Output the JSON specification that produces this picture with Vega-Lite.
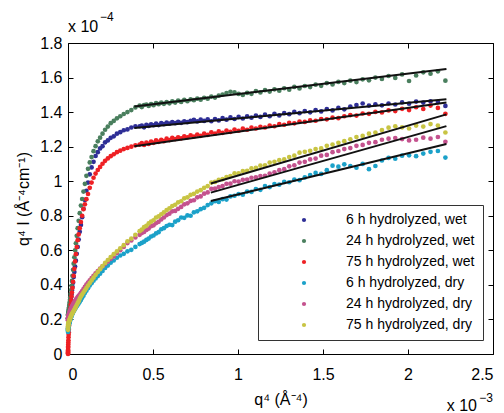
{
"$schema":"https://vega.github.io/schema/vega-lite/v6.json",
"width":425,"height":311,"autosize":"none",
"padding":{"left":68,"top":43,"right":11,"bottom":59},
"config":{"view":{"stroke":null},"font":"Liberation Sans",
"axis":{"grid":false,"domainColor":"#000","tickColor":"#000","labelColor":"#000","titleColor":"#000","labelFont":"Liberation Sans","titleFont":"Liberation Sans","labelFontSize":16,"titleFontSize":16,"titleFontWeight":"normal","tickSize":-5,"domainWidth":1,"tickWidth":1},
"text":{"font":"Liberation Sans","color":"#000"}},
"datasets":{
"w6":[{"x":0.0005,"y":0.204},{"x":0.0006,"y":0.206},{"x":0.0009,"y":0.207},{"x":0.0011,"y":0.21},{"x":0.0015,"y":0.211},{"x":0.0019,"y":0.215},{"x":0.0023,"y":0.218},{"x":0.0029,"y":0.222},{"x":0.0036,"y":0.229},{"x":0.0043,"y":0.234},{"x":0.0052,"y":0.241},{"x":0.0062,"y":0.247},{"x":0.0074,"y":0.255},{"x":0.0087,"y":0.262},{"x":0.0101,"y":0.271},{"x":0.0118,"y":0.285},{"x":0.0136,"y":0.299},{"x":0.0157,"y":0.314},{"x":0.018,"y":0.328},{"x":0.0205,"y":0.344},{"x":0.0233,"y":0.367},{"x":0.0263,"y":0.389},{"x":0.0297,"y":0.413},{"x":0.0333,"y":0.445},{"x":0.0373,"y":0.474},{"x":0.0416,"y":0.506},{"x":0.0463,"y":0.54},{"x":0.0514,"y":0.58},{"x":0.0568,"y":0.62},{"x":0.0627,"y":0.662},{"x":0.0691,"y":0.707},{"x":0.0759,"y":0.747},{"x":0.0832,"y":0.792},{"x":0.091,"y":0.84},{"x":0.0994,"y":0.892},{"x":0.1083,"y":0.945},{"x":0.1178,"y":0.992},{"x":0.128,"y":1.04},{"x":0.1388,"y":1.08},{"x":0.1502,"y":1.112},{"x":0.1623,"y":1.146},{"x":0.1752,"y":1.168},{"x":0.1888,"y":1.19},{"x":0.2031,"y":1.203},{"x":0.2183,"y":1.225},{"x":0.2343,"y":1.236},{"x":0.2512,"y":1.251},{"x":0.269,"y":1.26},{"x":0.2877,"y":1.275},{"x":0.3074,"y":1.284},{"x":0.328,"y":1.295},{"x":0.3497,"y":1.3},{"x":0.3724,"y":1.311},{"x":0.3963,"y":1.317},{"x":0.4212,"y":1.318},{"x":0.4341,"y":1.322},{"x":0.4474,"y":1.312},{"x":0.4609,"y":1.326},{"x":0.4747,"y":1.32},{"x":0.4888,"y":1.329},{"x":0.5032,"y":1.324},{"x":0.518,"y":1.333},{"x":0.533,"y":1.325},{"x":0.5484,"y":1.336},{"x":0.5641,"y":1.33},{"x":0.5802,"y":1.339},{"x":0.5966,"y":1.333},{"x":0.6133,"y":1.342},{"x":0.6304,"y":1.336},{"x":0.6479,"y":1.344},{"x":0.6657,"y":1.338},{"x":0.6839,"y":1.347},{"x":0.7024,"y":1.342},{"x":0.7213,"y":1.35},{"x":0.7406,"y":1.355},{"x":0.7603,"y":1.346},{"x":0.7804,"y":1.356},{"x":0.8009,"y":1.349},{"x":0.8217,"y":1.358},{"x":0.843,"y":1.347},{"x":0.8647,"y":1.36},{"x":0.8868,"y":1.352},{"x":0.9093,"y":1.365},{"x":0.9323,"y":1.356},{"x":0.9556,"y":1.369},{"x":0.9795,"y":1.36},{"x":1.0037,"y":1.372},{"x":1.0284,"y":1.363},{"x":1.0536,"y":1.375},{"x":1.0792,"y":1.368},{"x":1.1053,"y":1.38},{"x":1.1318,"y":1.372},{"x":1.1589,"y":1.385},{"x":1.1864,"y":1.376},{"x":1.2144,"y":1.39},{"x":1.2428,"y":1.381},{"x":1.2718,"y":1.394},{"x":1.3013,"y":1.388},{"x":1.3313,"y":1.401},{"x":1.3618,"y":1.394},{"x":1.3929,"y":1.406},{"x":1.4244,"y":1.399},{"x":1.4565,"y":1.412},{"x":1.4892,"y":1.404},{"x":1.5224,"y":1.418},{"x":1.5561,"y":1.41},{"x":1.5904,"y":1.424},{"x":1.6252,"y":1.416},{"x":1.6607,"y":1.432},{"x":1.6967,"y":1.441},{"x":1.7333,"y":1.45},{"x":1.7704,"y":1.438},{"x":1.8082,"y":1.445},{"x":1.8466,"y":1.439},{"x":1.8856,"y":1.45},{"x":1.9251,"y":1.444},{"x":1.9653,"y":1.456},{"x":2.0062,"y":1.449},{"x":2.0477,"y":1.461},{"x":2.0898,"y":1.455},{"x":2.1325,"y":1.462},{"x":2.1759,"y":1.458},{"x":2.22,"y":1.436}],
"w24":[{"x":0.0005,"y":0.224},{"x":0.0006,"y":0.228},{"x":0.0009,"y":0.227},{"x":0.0011,"y":0.231},{"x":0.0015,"y":0.232},{"x":0.0019,"y":0.237},{"x":0.0023,"y":0.238},{"x":0.0029,"y":0.245},{"x":0.0036,"y":0.249},{"x":0.0043,"y":0.256},{"x":0.0052,"y":0.262},{"x":0.0062,"y":0.27},{"x":0.0074,"y":0.279},{"x":0.0087,"y":0.29},{"x":0.0101,"y":0.301},{"x":0.0118,"y":0.314},{"x":0.0136,"y":0.329},{"x":0.0157,"y":0.347},{"x":0.018,"y":0.37},{"x":0.0205,"y":0.395},{"x":0.0233,"y":0.423},{"x":0.0263,"y":0.453},{"x":0.0297,"y":0.487},{"x":0.0333,"y":0.523},{"x":0.0373,"y":0.56},{"x":0.0416,"y":0.6},{"x":0.0463,"y":0.641},{"x":0.0514,"y":0.684},{"x":0.0568,"y":0.728},{"x":0.0627,"y":0.771},{"x":0.0691,"y":0.815},{"x":0.0759,"y":0.859},{"x":0.0832,"y":0.897},{"x":0.091,"y":0.94},{"x":0.0994,"y":0.985},{"x":0.1083,"y":1.031},{"x":0.1178,"y":1.072},{"x":0.128,"y":1.109},{"x":0.1388,"y":1.14},{"x":0.1502,"y":1.174},{"x":0.1623,"y":1.203},{"x":0.1752,"y":1.231},{"x":0.1888,"y":1.252},{"x":0.2031,"y":1.275},{"x":0.2183,"y":1.298},{"x":0.2343,"y":1.316},{"x":0.2512,"y":1.336},{"x":0.269,"y":1.349},{"x":0.2877,"y":1.364},{"x":0.3074,"y":1.376},{"x":0.328,"y":1.389},{"x":0.3497,"y":1.4},{"x":0.3724,"y":1.412},{"x":0.3963,"y":1.427},{"x":0.4212,"y":1.437},{"x":0.4341,"y":1.429},{"x":0.4474,"y":1.441},{"x":0.4609,"y":1.444},{"x":0.4747,"y":1.436},{"x":0.4888,"y":1.447},{"x":0.5032,"y":1.44},{"x":0.518,"y":1.452},{"x":0.533,"y":1.446},{"x":0.5484,"y":1.455},{"x":0.5641,"y":1.448},{"x":0.5802,"y":1.458},{"x":0.5966,"y":1.451},{"x":0.6133,"y":1.462},{"x":0.6304,"y":1.455},{"x":0.6479,"y":1.466},{"x":0.6657,"y":1.459},{"x":0.6839,"y":1.471},{"x":0.7024,"y":1.463},{"x":0.7213,"y":1.474},{"x":0.7406,"y":1.469},{"x":0.7603,"y":1.478},{"x":0.7804,"y":1.472},{"x":0.8009,"y":1.483},{"x":0.8217,"y":1.478},{"x":0.843,"y":1.49},{"x":0.8647,"y":1.484},{"x":0.8868,"y":1.495},{"x":0.9093,"y":1.502},{"x":0.9323,"y":1.51},{"x":0.9556,"y":1.518},{"x":0.9795,"y":1.514},{"x":1.0037,"y":1.505},{"x":1.0284,"y":1.499},{"x":1.0536,"y":1.511},{"x":1.0792,"y":1.506},{"x":1.1053,"y":1.522},{"x":1.1318,"y":1.514},{"x":1.1589,"y":1.527},{"x":1.1864,"y":1.519},{"x":1.2144,"y":1.532},{"x":1.2428,"y":1.524},{"x":1.2718,"y":1.538},{"x":1.3013,"y":1.53},{"x":1.3313,"y":1.546},{"x":1.3618,"y":1.537},{"x":1.3929,"y":1.551},{"x":1.4244,"y":1.545},{"x":1.4565,"y":1.559},{"x":1.4892,"y":1.552},{"x":1.5224,"y":1.568},{"x":1.5561,"y":1.56},{"x":1.5904,"y":1.575},{"x":1.6252,"y":1.568},{"x":1.6607,"y":1.582},{"x":1.6967,"y":1.574},{"x":1.7333,"y":1.59},{"x":1.7704,"y":1.584},{"x":1.8082,"y":1.6},{"x":1.8466,"y":1.592},{"x":1.8856,"y":1.609},{"x":1.9251,"y":1.598},{"x":1.9653,"y":1.618},{"x":2.0062,"y":1.58},{"x":2.0477,"y":1.612},{"x":2.0898,"y":1.63},{"x":2.1325,"y":1.622},{"x":2.1759,"y":1.636},{"x":2.22,"y":1.582}],
"w75":[{"x":0,"y":0},{"x":0.0001,"y":0.005},{"x":0.0002,"y":0.01},{"x":0.0003,"y":0.015},{"x":0.0005,"y":0.02},{"x":0.0006,"y":0.024},{"x":0.0009,"y":0.036},{"x":0.0011,"y":0.043},{"x":0.0015,"y":0.055},{"x":0.0019,"y":0.067},{"x":0.0023,"y":0.079},{"x":0.0029,"y":0.097},{"x":0.0036,"y":0.112},{"x":0.0043,"y":0.126},{"x":0.0052,"y":0.144},{"x":0.0062,"y":0.163},{"x":0.0074,"y":0.181},{"x":0.0087,"y":0.2},{"x":0.0101,"y":0.221},{"x":0.0118,"y":0.242},{"x":0.0136,"y":0.263},{"x":0.0157,"y":0.287},{"x":0.018,"y":0.31},{"x":0.0205,"y":0.334},{"x":0.0233,"y":0.356},{"x":0.0263,"y":0.382},{"x":0.0297,"y":0.418},{"x":0.0333,"y":0.453},{"x":0.0373,"y":0.493},{"x":0.0416,"y":0.536},{"x":0.0463,"y":0.578},{"x":0.0514,"y":0.619},{"x":0.0568,"y":0.659},{"x":0.0627,"y":0.692},{"x":0.0691,"y":0.728},{"x":0.0759,"y":0.764},{"x":0.0832,"y":0.8},{"x":0.091,"y":0.838},{"x":0.0994,"y":0.866},{"x":0.1083,"y":0.896},{"x":0.1178,"y":0.926},{"x":0.128,"y":0.962},{"x":0.1388,"y":0.992},{"x":0.1502,"y":1.02},{"x":0.1623,"y":1.044},{"x":0.1752,"y":1.065},{"x":0.1888,"y":1.083},{"x":0.2031,"y":1.101},{"x":0.2183,"y":1.118},{"x":0.2343,"y":1.132},{"x":0.2512,"y":1.145},{"x":0.269,"y":1.156},{"x":0.2877,"y":1.168},{"x":0.3074,"y":1.177},{"x":0.328,"y":1.186},{"x":0.3497,"y":1.193},{"x":0.3724,"y":1.2},{"x":0.3963,"y":1.208},{"x":0.4212,"y":1.212},{"x":0.4341,"y":1.22},{"x":0.4474,"y":1.21},{"x":0.4609,"y":1.223},{"x":0.4747,"y":1.216},{"x":0.4888,"y":1.229},{"x":0.5032,"y":1.222},{"x":0.518,"y":1.236},{"x":0.533,"y":1.228},{"x":0.5484,"y":1.24},{"x":0.5641,"y":1.232},{"x":0.5802,"y":1.246},{"x":0.5966,"y":1.238},{"x":0.6133,"y":1.251},{"x":0.6304,"y":1.244},{"x":0.6479,"y":1.254},{"x":0.6657,"y":1.248},{"x":0.6839,"y":1.26},{"x":0.7024,"y":1.254},{"x":0.7213,"y":1.266},{"x":0.7406,"y":1.259},{"x":0.7603,"y":1.27},{"x":0.7804,"y":1.263},{"x":0.8009,"y":1.275},{"x":0.8217,"y":1.268},{"x":0.843,"y":1.283},{"x":0.8647,"y":1.275},{"x":0.8868,"y":1.288},{"x":0.9093,"y":1.28},{"x":0.9323,"y":1.293},{"x":0.9556,"y":1.286},{"x":0.9795,"y":1.299},{"x":1.0037,"y":1.292},{"x":1.0284,"y":1.304},{"x":1.0536,"y":1.298},{"x":1.0792,"y":1.31},{"x":1.1053,"y":1.305},{"x":1.1318,"y":1.315},{"x":1.1589,"y":1.311},{"x":1.1864,"y":1.322},{"x":1.2144,"y":1.318},{"x":1.2428,"y":1.33},{"x":1.2718,"y":1.327},{"x":1.3013,"y":1.338},{"x":1.3313,"y":1.335},{"x":1.3618,"y":1.345},{"x":1.3929,"y":1.343},{"x":1.4244,"y":1.352},{"x":1.4565,"y":1.35},{"x":1.4892,"y":1.36},{"x":1.5224,"y":1.358},{"x":1.5561,"y":1.368},{"x":1.5904,"y":1.365},{"x":1.6252,"y":1.376},{"x":1.6607,"y":1.383},{"x":1.6967,"y":1.38},{"x":1.7333,"y":1.392},{"x":1.7704,"y":1.39},{"x":1.8082,"y":1.401},{"x":1.8466,"y":1.398},{"x":1.8856,"y":1.41},{"x":1.9251,"y":1.406},{"x":1.9653,"y":1.419},{"x":2.0062,"y":1.412},{"x":2.0477,"y":1.428},{"x":2.0898,"y":1.418},{"x":2.1325,"y":1.438},{"x":2.1759,"y":1.424},{"x":2.22,"y":1.39}],
"d6":[{"x":0.0001,"y":0.128},{"x":0.0001,"y":0.133},{"x":0.0002,"y":0.138},{"x":0.0003,"y":0.143},{"x":0.0005,"y":0.146},{"x":0.0006,"y":0.148},{"x":0.0009,"y":0.15},{"x":0.0011,"y":0.152},{"x":0.0015,"y":0.154},{"x":0.0019,"y":0.156},{"x":0.0023,"y":0.158},{"x":0.0029,"y":0.161},{"x":0.0036,"y":0.164},{"x":0.0043,"y":0.166},{"x":0.0052,"y":0.17},{"x":0.0062,"y":0.173},{"x":0.0074,"y":0.178},{"x":0.0087,"y":0.182},{"x":0.0101,"y":0.189},{"x":0.0118,"y":0.194},{"x":0.0136,"y":0.2},{"x":0.0157,"y":0.206},{"x":0.018,"y":0.213},{"x":0.0205,"y":0.22},{"x":0.0233,"y":0.227},{"x":0.0263,"y":0.233},{"x":0.0297,"y":0.24},{"x":0.0333,"y":0.248},{"x":0.0373,"y":0.255},{"x":0.0416,"y":0.261},{"x":0.0463,"y":0.269},{"x":0.0514,"y":0.277},{"x":0.0568,"y":0.285},{"x":0.0627,"y":0.293},{"x":0.0691,"y":0.302},{"x":0.0759,"y":0.312},{"x":0.0832,"y":0.325},{"x":0.091,"y":0.337},{"x":0.0994,"y":0.353},{"x":0.1083,"y":0.366},{"x":0.1178,"y":0.381},{"x":0.128,"y":0.396},{"x":0.1388,"y":0.41},{"x":0.1502,"y":0.424},{"x":0.1623,"y":0.437},{"x":0.1752,"y":0.451},{"x":0.1888,"y":0.465},{"x":0.2031,"y":0.481},{"x":0.2183,"y":0.498},{"x":0.2343,"y":0.512},{"x":0.2512,"y":0.528},{"x":0.269,"y":0.541},{"x":0.2877,"y":0.557},{"x":0.3074,"y":0.57},{"x":0.328,"y":0.58},{"x":0.3497,"y":0.594},{"x":0.3724,"y":0.603},{"x":0.3963,"y":0.62},{"x":0.4212,"y":0.636},{"x":0.4341,"y":0.643},{"x":0.4474,"y":0.65},{"x":0.4609,"y":0.66},{"x":0.4747,"y":0.668},{"x":0.4888,"y":0.68},{"x":0.5032,"y":0.686},{"x":0.518,"y":0.698},{"x":0.533,"y":0.705},{"x":0.5484,"y":0.722},{"x":0.5641,"y":0.728},{"x":0.5802,"y":0.741},{"x":0.5966,"y":0.748},{"x":0.6133,"y":0.746},{"x":0.6304,"y":0.766},{"x":0.6479,"y":0.774},{"x":0.6657,"y":0.79},{"x":0.6839,"y":0.788},{"x":0.7024,"y":0.802},{"x":0.7213,"y":0.8},{"x":0.7406,"y":0.82},{"x":0.7603,"y":0.826},{"x":0.7804,"y":0.838},{"x":0.8009,"y":0.846},{"x":0.8217,"y":0.862},{"x":0.843,"y":0.872},{"x":0.8647,"y":0.884},{"x":0.8868,"y":0.88},{"x":0.9093,"y":0.896},{"x":0.9323,"y":0.894},{"x":0.9556,"y":0.912},{"x":0.9795,"y":0.916},{"x":1.0037,"y":0.926},{"x":1.0284,"y":0.922},{"x":1.0536,"y":0.94},{"x":1.0792,"y":0.938},{"x":1.1053,"y":0.955},{"x":1.1318,"y":0.95},{"x":1.1589,"y":0.972},{"x":1.1864,"y":0.966},{"x":1.2144,"y":0.984},{"x":1.2428,"y":0.98},{"x":1.2718,"y":0.996},{"x":1.3013,"y":0.994},{"x":1.3313,"y":1.01},{"x":1.3618,"y":1.006},{"x":1.3929,"y":1.022},{"x":1.4244,"y":1.036},{"x":1.4565,"y":1.048},{"x":1.4892,"y":1.042},{"x":1.5224,"y":1.064},{"x":1.5561,"y":1.09},{"x":1.5904,"y":1.084},{"x":1.6252,"y":1.098},{"x":1.6607,"y":1.088},{"x":1.6967,"y":1.078},{"x":1.7333,"y":1.1},{"x":1.7704,"y":1.07},{"x":1.8082,"y":1.088},{"x":1.8466,"y":1.12},{"x":1.8856,"y":1.135},{"x":1.9251,"y":1.13},{"x":1.9653,"y":1.148},{"x":2.0062,"y":1.15},{"x":2.0477,"y":1.145},{"x":2.0898,"y":1.16},{"x":2.1325,"y":1.17},{"x":2.1759,"y":1.175},{"x":2.22,"y":1.137}],
"d24":[{"x":0.0001,"y":0.192},{"x":0.0001,"y":0.196},{"x":0.0002,"y":0.199},{"x":0.0003,"y":0.203},{"x":0.0005,"y":0.205},{"x":0.0006,"y":0.207},{"x":0.0009,"y":0.209},{"x":0.0011,"y":0.21},{"x":0.0015,"y":0.213},{"x":0.0019,"y":0.215},{"x":0.0023,"y":0.217},{"x":0.0029,"y":0.22},{"x":0.0036,"y":0.222},{"x":0.0043,"y":0.225},{"x":0.0052,"y":0.229},{"x":0.0062,"y":0.231},{"x":0.0074,"y":0.236},{"x":0.0087,"y":0.239},{"x":0.0101,"y":0.245},{"x":0.0118,"y":0.249},{"x":0.0136,"y":0.253},{"x":0.0157,"y":0.258},{"x":0.018,"y":0.263},{"x":0.0205,"y":0.269},{"x":0.0233,"y":0.275},{"x":0.0263,"y":0.28},{"x":0.0297,"y":0.288},{"x":0.0333,"y":0.294},{"x":0.0373,"y":0.301},{"x":0.0416,"y":0.308},{"x":0.0463,"y":0.315},{"x":0.0514,"y":0.322},{"x":0.0568,"y":0.329},{"x":0.0627,"y":0.337},{"x":0.0691,"y":0.344},{"x":0.0759,"y":0.354},{"x":0.0832,"y":0.364},{"x":0.091,"y":0.376},{"x":0.0994,"y":0.389},{"x":0.1083,"y":0.401},{"x":0.1178,"y":0.414},{"x":0.128,"y":0.427},{"x":0.1388,"y":0.439},{"x":0.1502,"y":0.453},{"x":0.1623,"y":0.467},{"x":0.1752,"y":0.48},{"x":0.1888,"y":0.494},{"x":0.2031,"y":0.508},{"x":0.2183,"y":0.522},{"x":0.2343,"y":0.535},{"x":0.2512,"y":0.551},{"x":0.269,"y":0.565},{"x":0.2877,"y":0.584},{"x":0.3074,"y":0.601},{"x":0.328,"y":0.62},{"x":0.3497,"y":0.642},{"x":0.3724,"y":0.657},{"x":0.3963,"y":0.675},{"x":0.4212,"y":0.69},{"x":0.4341,"y":0.7},{"x":0.4474,"y":0.706},{"x":0.4609,"y":0.718},{"x":0.4747,"y":0.726},{"x":0.4888,"y":0.74},{"x":0.5032,"y":0.745},{"x":0.518,"y":0.758},{"x":0.533,"y":0.765},{"x":0.5484,"y":0.779},{"x":0.5641,"y":0.79},{"x":0.5802,"y":0.804},{"x":0.5966,"y":0.812},{"x":0.6133,"y":0.826},{"x":0.6304,"y":0.828},{"x":0.6479,"y":0.84},{"x":0.6657,"y":0.851},{"x":0.6839,"y":0.866},{"x":0.7024,"y":0.872},{"x":0.7213,"y":0.886},{"x":0.7406,"y":0.89},{"x":0.7603,"y":0.907},{"x":0.7804,"y":0.912},{"x":0.8009,"y":0.928},{"x":0.8217,"y":0.935},{"x":0.843,"y":0.956},{"x":0.8647,"y":0.957},{"x":0.8868,"y":0.966},{"x":0.9093,"y":0.972},{"x":0.9323,"y":0.985},{"x":0.9556,"y":0.986},{"x":0.9795,"y":1.0},{"x":1.0037,"y":0.998},{"x":1.0284,"y":1.008},{"x":1.0536,"y":1.01},{"x":1.0792,"y":1.02},{"x":1.1053,"y":1.022},{"x":1.1318,"y":1.03},{"x":1.1589,"y":1.031},{"x":1.1864,"y":1.044},{"x":1.2144,"y":1.052},{"x":1.2428,"y":1.064},{"x":1.2718,"y":1.07},{"x":1.3013,"y":1.086},{"x":1.3313,"y":1.092},{"x":1.3618,"y":1.108},{"x":1.3929,"y":1.112},{"x":1.4244,"y":1.126},{"x":1.4565,"y":1.131},{"x":1.4892,"y":1.148},{"x":1.5224,"y":1.152},{"x":1.5561,"y":1.168},{"x":1.5904,"y":1.175},{"x":1.6252,"y":1.186},{"x":1.6607,"y":1.192},{"x":1.6967,"y":1.205},{"x":1.7333,"y":1.21},{"x":1.7704,"y":1.222},{"x":1.8082,"y":1.226},{"x":1.8466,"y":1.24},{"x":1.8856,"y":1.246},{"x":1.9251,"y":1.25},{"x":1.9653,"y":1.244},{"x":2.0062,"y":1.236},{"x":2.0477,"y":1.24},{"x":2.0898,"y":1.252},{"x":2.1325,"y":1.246},{"x":2.1759,"y":1.256},{"x":2.22,"y":1.228}],
"d75":[{"x":0.0001,"y":0.14},{"x":0.0001,"y":0.146},{"x":0.0002,"y":0.151},{"x":0.0003,"y":0.156},{"x":0.0005,"y":0.16},{"x":0.0006,"y":0.163},{"x":0.0009,"y":0.168},{"x":0.0011,"y":0.171},{"x":0.0015,"y":0.173},{"x":0.0019,"y":0.176},{"x":0.0023,"y":0.177},{"x":0.0029,"y":0.179},{"x":0.0036,"y":0.181},{"x":0.0043,"y":0.183},{"x":0.0052,"y":0.186},{"x":0.0062,"y":0.188},{"x":0.0074,"y":0.192},{"x":0.0087,"y":0.196},{"x":0.0101,"y":0.2},{"x":0.0118,"y":0.204},{"x":0.0136,"y":0.209},{"x":0.0157,"y":0.214},{"x":0.018,"y":0.22},{"x":0.0205,"y":0.226},{"x":0.0233,"y":0.231},{"x":0.0263,"y":0.237},{"x":0.0297,"y":0.243},{"x":0.0333,"y":0.249},{"x":0.0373,"y":0.256},{"x":0.0416,"y":0.264},{"x":0.0463,"y":0.273},{"x":0.0514,"y":0.283},{"x":0.0568,"y":0.294},{"x":0.0627,"y":0.306},{"x":0.0691,"y":0.32},{"x":0.0759,"y":0.333},{"x":0.0832,"y":0.344},{"x":0.091,"y":0.356},{"x":0.0994,"y":0.369},{"x":0.1083,"y":0.382},{"x":0.1178,"y":0.396},{"x":0.128,"y":0.411},{"x":0.1388,"y":0.426},{"x":0.1502,"y":0.442},{"x":0.1623,"y":0.458},{"x":0.1752,"y":0.474},{"x":0.1888,"y":0.491},{"x":0.2031,"y":0.509},{"x":0.2183,"y":0.527},{"x":0.2343,"y":0.544},{"x":0.2512,"y":0.561},{"x":0.269,"y":0.578},{"x":0.2877,"y":0.594},{"x":0.3074,"y":0.612},{"x":0.328,"y":0.63},{"x":0.3497,"y":0.652},{"x":0.3724,"y":0.668},{"x":0.3963,"y":0.69},{"x":0.4212,"y":0.711},{"x":0.4341,"y":0.72},{"x":0.4474,"y":0.735},{"x":0.4609,"y":0.742},{"x":0.4747,"y":0.756},{"x":0.4888,"y":0.766},{"x":0.5032,"y":0.774},{"x":0.518,"y":0.79},{"x":0.533,"y":0.796},{"x":0.5484,"y":0.809},{"x":0.5641,"y":0.82},{"x":0.5802,"y":0.833},{"x":0.5966,"y":0.843},{"x":0.6133,"y":0.856},{"x":0.6304,"y":0.864},{"x":0.6479,"y":0.878},{"x":0.6657,"y":0.884},{"x":0.6839,"y":0.901},{"x":0.7024,"y":0.907},{"x":0.7213,"y":0.921},{"x":0.7406,"y":0.927},{"x":0.7603,"y":0.94},{"x":0.7804,"y":0.948},{"x":0.8009,"y":0.962},{"x":0.8217,"y":0.972},{"x":0.843,"y":0.992},{"x":0.8647,"y":0.996},{"x":0.8868,"y":1.008},{"x":0.9093,"y":1.012},{"x":0.9323,"y":1.024},{"x":0.9556,"y":1.03},{"x":0.9795,"y":1.045},{"x":1.0037,"y":1.046},{"x":1.0284,"y":1.059},{"x":1.0536,"y":1.06},{"x":1.0792,"y":1.074},{"x":1.1053,"y":1.077},{"x":1.1318,"y":1.09},{"x":1.1589,"y":1.092},{"x":1.1864,"y":1.108},{"x":1.2144,"y":1.112},{"x":1.2428,"y":1.122},{"x":1.2718,"y":1.126},{"x":1.3013,"y":1.14},{"x":1.3313,"y":1.148},{"x":1.3618,"y":1.165},{"x":1.3929,"y":1.17},{"x":1.4244,"y":1.176},{"x":1.4565,"y":1.186},{"x":1.4892,"y":1.19},{"x":1.5224,"y":1.205},{"x":1.5561,"y":1.212},{"x":1.5904,"y":1.222},{"x":1.6252,"y":1.232},{"x":1.6607,"y":1.243},{"x":1.6967,"y":1.256},{"x":1.7333,"y":1.262},{"x":1.7704,"y":1.275},{"x":1.8082,"y":1.282},{"x":1.8466,"y":1.296},{"x":1.8856,"y":1.31},{"x":1.9251,"y":1.318},{"x":1.9653,"y":1.312},{"x":2.0062,"y":1.305},{"x":2.0477,"y":1.322},{"x":2.0898,"y":1.316},{"x":2.1325,"y":1.331},{"x":2.1759,"y":1.322},{"x":2.22,"y":1.282}],
"fits":[{"s":"24 h wet","x":0.39,"y":1.432},{"s":"24 h wet","x":2.226,"y":1.65},{"s":"6 h wet","x":0.39,"y":1.308},{"s":"6 h wet","x":2.226,"y":1.474},{"s":"75 h wet","x":0.39,"y":1.202},{"s":"75 h wet","x":2.226,"y":1.455},{"s":"75 h dry","x":0.84,"y":0.987},{"s":"75 h dry","x":2.226,"y":1.387},{"s":"24 h dry","x":0.84,"y":0.934},{"s":"24 h dry","x":2.226,"y":1.319},{"s":"6 h dry","x":0.84,"y":0.886},{"s":"6 h dry","x":2.226,"y":1.215}]
},
"layer":[
{"data":{"name":"w6"},"mark":{"type":"circle","size":22,"opacity":1},
 "encoding":{
  "x":{"field":"x","type":"quantitative","scale":{"domain":[0,2.5],"nice":false},"axis":{"orient":"bottom","values":[0,0.5,1,1.5,2,2.5],"format":"~f","title":"q⁴ (Å⁻⁴)","labelPadding":17,"titlePadding":9}},
  "y":{"field":"y","type":"quantitative","scale":{"domain":[0,1.8],"nice":false},"axis":{"orient":"left","values":[0,0.2,0.4,0.6,0.8,1,1.2,1.4,1.6,1.8],"format":"~f","title":"q⁴ I (Å⁻⁴cm⁻¹)","labelPadding":11,"titlePadding":8}},
  "color":{"datum":"6 h hydrolyzed, wet","type":"nominal",
   "scale":{"domain":["6 h hydrolyzed, wet","24 h hydrolyzed, wet","75 h hydrolyzed, wet","6 h hydrolyzed, dry","24 h hydrolyzed, dry","75 h hydrolyzed, dry"],"range":["#2e2e96","#4a7f5e","#ee2024","#1ba1c9","#c4528e","#c8c443"]},
   "legend":{"orient":"none","legendX":190,"legendY":162,"title":null,"padding":8,"fillColor":"#ffffff","strokeColor":"#333333","symbolType":"circle","symbolSize":18,"symbolOffset":31,"labelOffset":35,"labelFontSize":14,"labelFont":"Liberation Sans","labelColor":"#000000","rowPadding":7,"labelLimit":400}}}},
{"data":{"name":"w24"},"mark":{"type":"circle","size":22,"opacity":1},"encoding":{"x":{"field":"x","type":"quantitative","axis":null},"y":{"field":"y","type":"quantitative","axis":null},"color":{"datum":"24 h hydrolyzed, wet","type":"nominal"}}},
{"data":{"name":"w75"},"mark":{"type":"circle","size":22,"opacity":1},"encoding":{"x":{"field":"x","type":"quantitative","axis":null},"y":{"field":"y","type":"quantitative","axis":null},"color":{"datum":"75 h hydrolyzed, wet","type":"nominal"}}},
{"data":{"name":"d6"},"mark":{"type":"circle","size":22,"opacity":1},"encoding":{"x":{"field":"x","type":"quantitative","axis":null},"y":{"field":"y","type":"quantitative","axis":null},"color":{"datum":"6 h hydrolyzed, dry","type":"nominal"}}},
{"data":{"name":"d24"},"mark":{"type":"circle","size":22,"opacity":1},"encoding":{"x":{"field":"x","type":"quantitative","axis":null},"y":{"field":"y","type":"quantitative","axis":null},"color":{"datum":"24 h hydrolyzed, dry","type":"nominal"}}},
{"data":{"name":"d75"},"mark":{"type":"circle","size":22,"opacity":1},"encoding":{"x":{"field":"x","type":"quantitative","axis":null},"y":{"field":"y","type":"quantitative","axis":null},"color":{"datum":"75 h hydrolyzed, dry","type":"nominal"}}},
{"data":{"name":"fits"},"mark":{"type":"line","color":"#111111","strokeWidth":2},
 "encoding":{
  "x":{"field":"x","type":"quantitative","axis":{"orient":"top","values":[0,0.5,1,1.5,2,2.5],"labels":false,"title":null}},
  "y":{"field":"y","type":"quantitative","axis":{"orient":"right","values":[0,0.2,0.4,0.6,0.8,1,1.2,1.4,1.6,1.8],"labels":false,"title":null}},
  "detail":{"field":"s","type":"nominal"}}},
{"data":{"values":[{}]},"mark":{"type":"text","text":"x 10","align":"left","baseline":"alphabetic","dy":-11,"fontSize":16},"encoding":{"x":{"datum":0,"axis":null},"y":{"datum":1.8,"axis":null}}},
{"data":{"values":[{}]},"mark":{"type":"text","text":"−4","align":"left","baseline":"alphabetic","dx":32,"dy":-22,"fontSize":12},"encoding":{"x":{"datum":0,"axis":null},"y":{"datum":1.8,"axis":null}}},
{"data":{"values":[{}]},"mark":{"type":"text","text":"x 10","align":"right","baseline":"alphabetic","dx":-16,"dy":57,"fontSize":16},"encoding":{"x":{"datum":2.5,"axis":null},"y":{"datum":0,"axis":null}}},
{"data":{"values":[{}]},"mark":{"type":"text","text":"−3","align":"right","baseline":"alphabetic","dx":0,"dy":48,"fontSize":12},"encoding":{"x":{"datum":2.5,"axis":null},"y":{"datum":0,"axis":null}}}
],
"resolve":{"axis":{"x":"independent","y":"independent"}}
}
